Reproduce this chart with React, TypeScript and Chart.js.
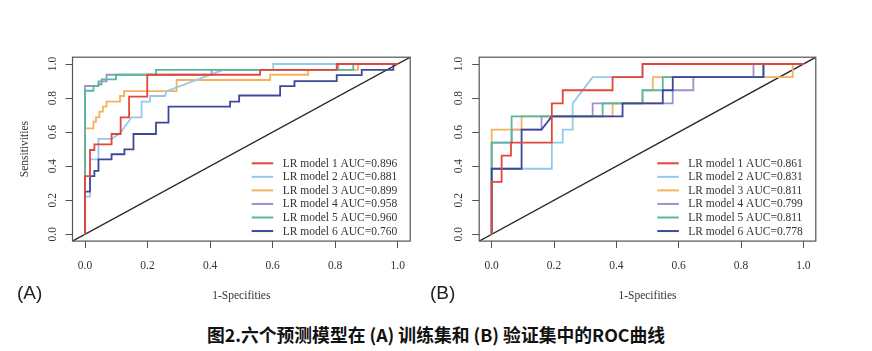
import React, { useEffect, useRef } from "react";
import { Chart, registerables } from "chart.js";

Chart.register(...registerables);

type P = [number, number];

const modelNames = ["LR model 1", "LR model 2", "LR model 3", "LR model 4", "LR model 5", "LR model 6"];
const trainAUC = ["0.896", "0.881", "0.899", "0.958", "0.960", "0.760"];
const testAUC = ["0.861", "0.831", "0.811", "0.799", "0.811", "0.778"];
const tickValues = [0, 0.2, 0.4, 0.6, 0.8, 1.0];
const tickLabels = ["0.0", "0.2", "0.4", "0.6", "0.8", "1.0"];
const xTitle = "1-Specifities";
const yTitle = "Sensitivities";
const panelLabels = ["(A)", "(B)"];
const caption = "图2.六个预测模型在 (A) 训练集和 (B) 验证集中的ROC曲线";
const colors = ["#E5463B", "#95C9EC", "#F6B15E", "#9C92CC", "#56B99B", "#3E4799"];
// stacking: smaller = drawn on top
const stackOrder = [1, 4, 5, 6, 3, 2];

// Training set ROC curves (1-specificity, sensitivity)
const trainM1: P[] = [[0, 0], [0, 0.342], [0.016, 0.342], [0.016, 0.495], [0.03, 0.495], [0.03, 0.528], [0.085, 0.528], [0.085, 0.589], [0.114, 0.589], [0.114, 0.687], [0.141, 0.687], [0.141, 0.808], [0.199, 0.808], [0.199, 0.937], [0.56, 0.937], [0.56, 0.965], [0.805, 0.965], [0.805, 1], [1, 1]];
const trainM2: P[] = [[0, 0], [0, 0.221], [0.016, 0.221], [0.016, 0.44], [0.043, 0.44], [0.043, 0.56], [0.085, 0.56], [0.112, 0.593], [0.149, 0.687], [0.181, 0.687], [0.181, 0.779], [0.208, 0.779], [0.208, 0.812], [0.256, 0.812], [0.261, 0.841], [0.442, 0.965], [0.602, 0.965], [0.602, 1], [1, 1]];
const trainM3: P[] = [[0, 0], [0, 0.622], [0.027, 0.622], [0.027, 0.661], [0.035, 0.661], [0.035, 0.687], [0.046, 0.687], [0.046, 0.72], [0.057, 0.72], [0.057, 0.75], [0.069, 0.75], [0.069, 0.779], [0.112, 0.779], [0.112, 0.812], [0.125, 0.812], [0.125, 0.841], [0.293, 0.841], [0.293, 0.906], [0.592, 0.906], [0.592, 0.937], [0.714, 0.937], [0.714, 0.965], [0.873, 0.965], [0.873, 1], [1, 1]];
const trainM4: P[] = [[0, 0], [0, 0.871], [0.043, 0.871], [0.043, 0.898], [0.069, 0.898], [0.069, 0.937], [0.405, 0.937], [0.405, 0.965], [0.81, 0.965], [0.81, 1], [1, 1]];
const trainM5: P[] = [[0, 0], [0, 0.843], [0.027, 0.843], [0.027, 0.871], [0.043, 0.871], [0.043, 0.881], [0.053, 0.881], [0.053, 0.91], [0.099, 0.91], [0.099, 0.937], [0.227, 0.937], [0.227, 0.965], [0.858, 0.965], [0.858, 1], [1, 1]];
const trainM6: P[] = [[0, 0], [0, 0.25], [0.016, 0.25], [0.016, 0.342], [0.03, 0.342], [0.03, 0.372], [0.043, 0.372], [0.043, 0.44], [0.085, 0.44], [0.085, 0.47], [0.126, 0.47], [0.126, 0.499], [0.155, 0.499], [0.155, 0.589], [0.227, 0.589], [0.227, 0.656], [0.267, 0.656], [0.267, 0.75], [0.464, 0.75], [0.464, 0.779], [0.493, 0.779], [0.493, 0.815], [0.624, 0.815], [0.624, 0.87], [0.67, 0.87], [0.67, 0.9], [0.805, 0.9], [0.805, 0.935], [0.885, 0.935], [0.885, 0.965], [0.986, 0.965], [0.986, 1], [1, 1]];

// Validation set ROC curves
const testM1: P[] = [[0, 0], [0, 0.308], [0.032, 0.308], [0.032, 0.462], [0.062, 0.462], [0.062, 0.538], [0.193, 0.538], [0.193, 0.769], [0.228, 0.769], [0.228, 0.846], [0.388, 0.846], [0.388, 0.923], [0.484, 0.923], [0.484, 1], [1, 1]];
const testM2: P[] = [[0, 0], [0, 0.385], [0.193, 0.385], [0.193, 0.538], [0.228, 0.538], [0.228, 0.615], [0.26, 0.615], [0.26, 0.769], [0.324, 0.923], [0.484, 0.923], [0.484, 1], [1, 1]];
const testM3: P[] = [[0, 0], [0, 0.615], [0.096, 0.615], [0.096, 0.692], [0.388, 0.692], [0.388, 0.769], [0.484, 0.769], [0.484, 0.846], [0.517, 0.846], [0.517, 0.923], [0.966, 0.923], [0.966, 1], [1, 1]];
const testM4: P[] = [[0, 0], [0, 0.538], [0.064, 0.538], [0.064, 0.615], [0.16, 0.615], [0.16, 0.692], [0.324, 0.692], [0.324, 0.769], [0.581, 0.769], [0.581, 0.846], [0.647, 0.846], [0.647, 0.923], [0.84, 0.923], [0.84, 1], [1, 1]];
const testM5: P[] = [[0, 0], [0, 0.538], [0.064, 0.538], [0.064, 0.692], [0.356, 0.692], [0.356, 0.769], [0.484, 0.769], [0.484, 0.846], [0.549, 0.846], [0.549, 0.923], [0.872, 0.923], [0.872, 1], [1, 1]];
const testM6: P[] = [[0, 0], [0, 0.385], [0.096, 0.385], [0.096, 0.615], [0.16, 0.615], [0.193, 0.692], [0.42, 0.692], [0.42, 0.769], [0.549, 0.769], [0.549, 0.846], [0.581, 0.846], [0.581, 0.923], [0.872, 0.923], [0.872, 1], [1, 1]];

const trainCurves = [trainM1, trainM2, trainM3, trainM4, trainM5, trainM6];
const testCurves = [testM1, testM2, testM3, testM4, testM5, testM6];
const axisRange: [number, number] = [-0.04, 1.04];

const SERIF = "'Liberation Serif', 'Times New Roman', serif";
const CANVAS_W = 436;
const CANVAS_H = 310;

type PanelProps = {
  curves: P[][];
  aucs: string[];
  left: number;
  padding: { left: number; right: number; top: number; bottom: number };
  yLabelOffset: number;
};

function Panel({ curves, aucs, left, padding, yLabelOffset }: PanelProps) {
  const ref = useRef<HTMLCanvasElement | null>(null);

  useEffect(() => {
    if (!ref.current) return;
    const decorations = {
      id: "rocDecor",
      afterDraw(chart: any) {
        const ctx = chart.ctx as CanvasRenderingContext2D;
        const area = chart.chartArea;
        const xs = chart.scales.x;
        const ys = chart.scales.y;
        ctx.save();
        // box
        ctx.strokeStyle = "#555";
        ctx.lineWidth = 1.2;
        ctx.strokeRect(area.left, area.top, area.right - area.left, area.bottom - area.top);
        ctx.fillStyle = "#333";
        ctx.font = `11.5px ${SERIF}`;
        // x tick labels
        ctx.textAlign = "center";
        ctx.textBaseline = "middle";
        tickValues.forEach((v, i) => {
          ctx.fillText(tickLabels[i], xs.getPixelForValue(v), 266);
        });
        // x title
        ctx.fillText(xTitle, xs.getPixelForValue(0.5), 296);
        // y tick labels (rotated)
        tickValues.forEach((v, i) => {
          ctx.save();
          ctx.translate(area.left - yLabelOffset, ys.getPixelForValue(v));
          ctx.rotate(-Math.PI / 2);
          ctx.fillText(tickLabels[i], 0, 0);
          ctx.restore();
        });
        ctx.save();
        ctx.translate(area.left - 47.5, ys.getPixelForValue(0.5));
        ctx.rotate(-Math.PI / 2);
        ctx.fillText(yTitle, 0, 0);
        ctx.restore();
        // legend
        ctx.textAlign = "left";
        modelNames.forEach((name, i) => {
          const y = 163.3 + 13.55 * i;
          ctx.strokeStyle = colors[i];
          ctx.lineWidth = 2;
          ctx.beginPath();
          ctx.moveTo(area.right - 158.5, y);
          ctx.lineTo(area.right - 137, y);
          ctx.stroke();
          ctx.fillStyle = "#333";
          ctx.fillText(`${name} AUC=${aucs[i]}`, area.right - 127.5, y + 0.5);
        });
        ctx.restore();
      },
    };

    const datasets: any[] = [
      {
        label: "diag",
        data: [
          { x: axisRange[0], y: axisRange[0] },
          { x: axisRange[1], y: axisRange[1] },
        ],
        borderColor: "#2a2a2a",
        borderWidth: 1.4,
        showLine: true,
        pointRadius: 0,
        order: 10,
      },
      ...curves.map((c, i) => ({
        label: modelNames[i],
        data: c.map(([x, y]) => ({ x, y })),
        borderColor: colors[i],
        borderWidth: 1.8,
        showLine: true,
        pointRadius: 0,
        tension: 0,
        order: stackOrder[i],
      })),
    ];

    const scaleCommon = (axis: "x" | "y") => ({
      type: "linear" as const,
      min: axisRange[0],
      max: axisRange[1],
      afterBuildTicks: (s: any) => {
        s.ticks = tickValues.map((v) => ({ value: v }));
      },
      afterFit: (s: any) => {
        if (axis === "x") s.height = 0;
        else s.width = 0;
      },
      ticks: { display: false },
      grid: { drawOnChartArea: false, drawTicks: true, tickLength: 7, color: "#555", lineWidth: 1 },
      border: { display: false },
    });

    const chart = new Chart(ref.current, {
      type: "scatter",
      data: { datasets },
      options: {
        animation: false,
        responsive: false,
        maintainAspectRatio: false,
        devicePixelRatio: 1,
        events: [],
        layout: { padding },
        plugins: { legend: { display: false }, tooltip: { enabled: false } },
        scales: { x: scaleCommon("x"), y: scaleCommon("y") } as any,
      },
      plugins: [decorations],
    });
    return () => chart.destroy();
  }, [curves, aucs, padding, yLabelOffset]);

  return (
    <canvas
      ref={ref}
      width={CANVAS_W}
      height={CANVAS_H}
      style={{ position: "absolute", left, top: 0, width: CANVAS_W, height: CANVAS_H }}
    />
  );
}

const padA = { left: 72.5, right: 25.8, top: 57.2, bottom: 68.9 };
const padB = { left: 43.2, right: 56.2, top: 57.2, bottom: 68.9 };

export default function App() {
  return (
    <div style={{ position: "absolute", left: 0, top: 0, width: 872, height: 351, background: "#fff", overflow: "hidden" }}>
      <Panel curves={trainCurves} aucs={trainAUC} left={0} padding={padA} yLabelOffset={19.5} />
      <Panel curves={testCurves} aucs={testAUC} left={436} padding={padB} yLabelOffset={20} />
      <div style={{ position: "absolute", left: 17, top: 283, fontFamily: "'Liberation Sans', Arial, sans-serif", fontSize: 19, lineHeight: "20px", color: "#222" }}>
        {panelLabels[0]}
      </div>
      <div style={{ position: "absolute", left: 430, top: 283, fontFamily: "'Liberation Sans', Arial, sans-serif", fontSize: 19, lineHeight: "20px", color: "#222" }}>
        {panelLabels[1]}
      </div>
      <div style={{ position: "absolute", left: 0, top: 324, width: 872, textAlign: "center", fontFamily: "'Noto Sans CJK SC', 'Noto Sans', sans-serif", fontWeight: 700, fontSize: 17.8, lineHeight: "20px", color: "#111" }}>
        {caption}
      </div>
    </div>
  );
}
